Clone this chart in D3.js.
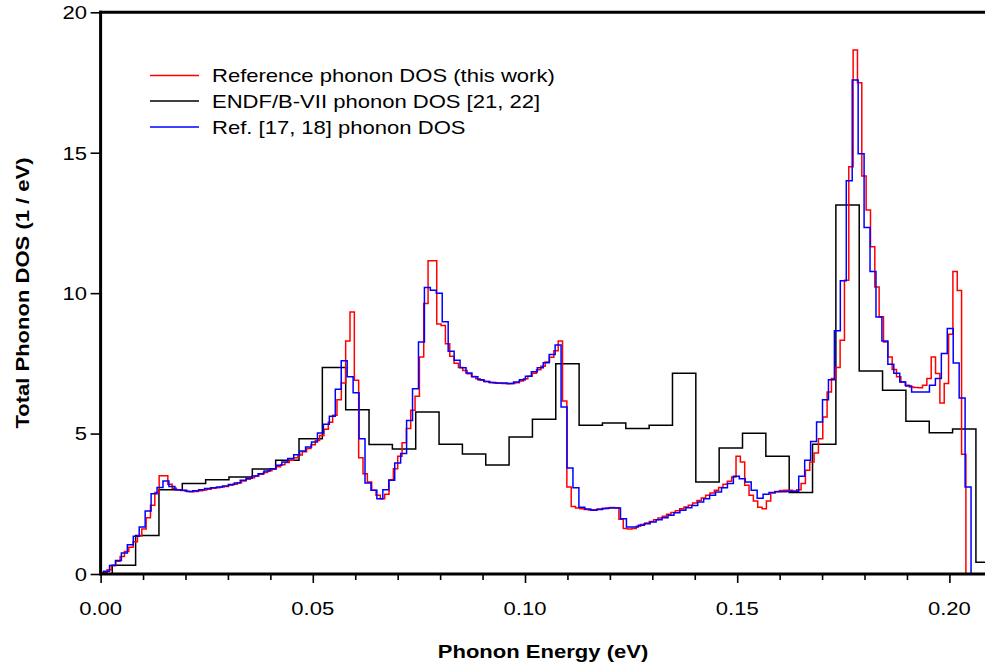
<!DOCTYPE html>
<html>
<head>
<meta charset="utf-8">
<script src="https://cdn.jsdelivr.net/npm/d3@7/dist/d3.min.js"></script>
<style>
  body { margin: 0; background: #ffffff; }
  svg { display: block; }
  text { font-family: "Liberation Sans", Arial, Helvetica, sans-serif; fill: #000; }
</style>
</head>
<body>
<svg id="chart" width="985" height="671"></svg>
<script>
// ---- data -------------------------------------------------------------
// Histogram bins are centred on i * binWidth (eV); values in 1/eV.

const refBinWidth = 0.001022;   // Reference phonon DOS (this work)
const refDOS = [
  0.02, 0.05, 0.15, 0.30, 0.45, 0.62, 0.80, 0.95, 1.15, 1.35,
  1.60, 2.00, 2.45, 2.90, 3.50, 3.50, 3.20, 3.05, 3.00, 2.97,
  2.95, 2.93, 2.94, 2.96, 2.99, 3.02, 3.05, 3.07, 3.10, 3.12,
  3.16, 3.20, 3.25, 3.31, 3.37, 3.43, 3.49, 3.55, 3.61, 3.68,
  3.74, 3.82, 3.89, 3.97, 4.05, 4.14, 4.24, 4.35, 4.47, 4.60,
  4.75, 4.93, 5.15, 5.40, 5.65, 6.20, 6.80, 8.30, 9.33, 6.90,
  4.14, 3.57, 3.28, 2.98, 2.80, 2.68, 2.84, 3.36, 3.75, 4.19,
  4.67, 5.18, 5.83, 6.33, 7.73, 9.63, 11.15, 11.15, 8.90, 8.85,
  8.20, 7.75, 7.50, 7.35, 7.25, 7.13, 7.03, 6.95, 6.90, 6.85,
  6.82, 6.80, 6.79, 6.78, 6.77, 6.78, 6.81, 6.87, 6.95, 7.04,
  7.15, 7.27, 7.40, 7.55, 7.72, 7.95, 8.30, 6.16, 3.10, 2.40,
  2.35, 2.32, 2.30, 2.28, 2.29, 2.31, 2.33, 2.35, 2.37, 2.36,
  1.95, 1.62, 1.60, 1.62, 1.70, 1.76, 1.82, 1.87, 1.93, 1.99,
  2.06, 2.13, 2.19, 2.25, 2.32, 2.39, 2.45, 2.53, 2.62, 2.71,
  2.80, 2.88, 2.98, 3.08, 3.20, 3.30, 3.45, 4.19, 3.99, 3.16,
  2.80, 2.60, 2.38, 2.32, 2.60, 2.88, 2.94, 2.97, 2.98, 2.98,
  2.95, 3.00, 3.22, 3.69, 3.99, 4.31, 4.82, 5.59, 6.48, 6.96,
  7.35, 8.32, 10.46, 14.50, 18.66, 17.49, 14.17, 12.96, 11.65, 10.22,
  9.16, 8.26, 7.73, 7.28, 7.02, 6.84, 6.72, 6.66, 6.64, 6.63,
  6.72, 6.96, 7.73, 7.14, 6.09, 6.78, 8.54, 10.77, 10.09, 4.26
];

const endfBinWidth = 0.0055;    // ENDF/B-VII phonon DOS [21, 22]
const endfDOS = [
  0.00, 0.31, 1.37, 3.00, 3.22, 3.36, 3.45, 3.74, 4.05, 4.82,
  7.35, 5.85, 4.61, 4.45, 5.77, 4.62, 4.27, 3.88, 4.88, 5.51,
  7.49, 5.30, 5.38, 5.18, 5.30, 7.15, 3.28, 4.49, 5.01, 4.19,
  2.90, 4.62, 13.14, 7.23, 6.54, 5.44, 5.03, 5.16, 0.42
];

const litBinWidth = 0.0014;     // Ref. [17, 18] phonon DOS
const litDOS = [
  0.00, 0.10, 0.30, 0.48, 0.75, 1.04, 1.34, 1.67, 2.24, 2.86,
  3.08, 3.31, 3.12, 3.00, 2.98, 2.94, 2.96, 3.00, 3.04, 3.07,
  3.10, 3.13, 3.19, 3.24, 3.34, 3.41, 3.49, 3.57, 3.67, 3.75,
  3.87, 3.99, 4.11, 4.25, 4.38, 4.52, 4.70, 5.02, 5.33, 5.62,
  6.58, 7.59, 7.02, 6.45, 4.82, 3.24, 2.98, 2.68, 3.00, 3.34,
  3.95, 4.29, 5.47, 6.60, 8.26, 10.20, 10.10, 10.00, 8.98, 7.93,
  7.61, 7.34, 7.16, 7.02, 6.92, 6.85, 6.82, 6.80, 6.80, 6.78,
  6.84, 6.92, 7.04, 7.20, 7.34, 7.52, 7.82, 8.15, 5.95, 3.77,
  3.07, 2.38, 2.31, 2.27, 2.30, 2.33, 2.35, 2.35, 1.97, 1.67,
  1.67, 1.74, 1.79, 1.85, 1.93, 2.00, 2.09, 2.18, 2.27, 2.36,
  2.44, 2.56, 2.68, 2.80, 2.92, 3.07, 3.22, 3.48, 3.39, 3.28,
  2.98, 2.70, 2.84, 2.90, 2.93, 2.93, 2.95, 2.95, 3.48, 4.05,
  4.72, 5.41, 6.20, 6.92, 8.66, 10.44, 14.00, 17.59, 14.96, 12.34,
  10.77, 9.15, 8.30, 7.47, 7.15, 6.84, 6.69, 6.48, 6.48, 6.48,
  6.72, 6.96, 7.85, 8.74, 7.51, 6.27, 3.10
];

const xMajorTicks = [0.00, 0.05, 0.10, 0.15, 0.20];
const xTickLabels = ["0.00", "0.05", "0.10", "0.15", "0.20"];
const xMinorTicks = [0.01, 0.02, 0.03, 0.04, 0.06, 0.07, 0.08, 0.09, 0.11, 0.12,
                     0.13, 0.14, 0.16, 0.17, 0.18, 0.19, 0.21];
const yTicks = [0, 5, 10, 15, 20];
const yTickLabels = ["0", "5", "10", "15", "20"];

const seriesNames = [
  "Reference phonon DOS (this work)",
  "ENDF/B-VII phonon DOS [21, 22]",
  "Ref. [17, 18] phonon DOS"
];
const seriesColors = ["#ff0000", "#000000", "#0000ff"];

// ---- layout -------------------------------------------------------------
const W = 985, H = 671;
const svg = d3.select("#chart");
const x = d3.scaleLinear().domain([0, 0.21]).range([100.6, 100.6 + 0.21 * 4244]);
const y = d3.scaleLinear().domain([0, 20]).range([574, 12.3]);
const SX = 1.16;     // horizontal stretch of the lettering
const FS = 19;       // font size (px)

svg.append("defs").append("clipPath").attr("id", "plotClip")
  .append("rect").attr("x", x(0)).attr("y", 0).attr("width", W).attr("height", y(0));

// ---- step histograms ---------------------------------------------------------
function stepPoints(values, width) {
  const pts = [[0, 0]];
  values.forEach((v, i) => {
    const a = Math.max(0, (i - 0.5) * width);
    const b = (i + 0.5) * width;
    pts.push([a, v], [b, v]);
  });
  pts.push([(values.length - 0.5) * width, 0]);
  return pts;
}
const line = d3.line().x(d => x(d[0])).y(d => y(d[1]));

const plot = svg.append("g").attr("clip-path", "url(#plotClip)");
const drawOrder = [
  { values: endfDOS, width: endfBinWidth, color: seriesColors[1] },
  { values: refDOS, width: refBinWidth, color: seriesColors[0] },
  { values: litDOS, width: litBinWidth, color: seriesColors[2] }
];
drawOrder.forEach(s => {
  plot.append("path")
    .attr("d", line(stepPoints(s.values, s.width)))
    .attr("fill", "none")
    .attr("stroke", s.color)
    .attr("stroke-width", 1.5)
    .attr("stroke-linejoin", "miter");
});

// ---- axes & frame ----------------------------------------------------------
const xAxisMinor = d3.axisBottom(x).tickValues(xMinorTicks).tickSize(6).tickFormat("");
const xAxisMajor = d3.axisBottom(x).tickValues(xMajorTicks).tickSize(9).tickFormat("");
const yAxis = d3.axisLeft(y).tickValues(yTicks).tickSize(10).tickFormat("");

[xAxisMinor, xAxisMajor].forEach(ax => {
  const g = svg.append("g").attr("transform", `translate(0,${y(0)})`).call(ax);
  g.select(".domain").remove();
  g.selectAll(".tick line").attr("stroke", "#000").attr("stroke-width", 1.6);
});
const gy = svg.append("g").attr("transform", `translate(${x(0)},0)`).call(yAxis);
gy.select(".domain").remove();
gy.selectAll(".tick line").attr("stroke", "#000").attr("stroke-width", 1.6);

// frame: thick left, bottom and top borders
const frame = svg.append("g").attr("stroke", "#000").attr("stroke-width", 3).attr("fill", "none");
frame.append("line").attr("x1", x(0)).attr("x2", W).attr("y1", y(0)).attr("y2", y(0));
frame.append("line").attr("x1", x(0) - 1.5).attr("x2", W).attr("y1", y(20)).attr("y2", y(20));
frame.append("line").attr("x1", x(0)).attr("x2", x(0)).attr("y1", y(20) - 1.5).attr("y2", y(0) + 1.5);

// tick labels
svg.append("g").selectAll("text").data(xMajorTicks).join("text")
  .attr("transform", d => `translate(${x(d)},615) scale(${SX},1)`)
  .attr("text-anchor", "middle")
  .attr("font-size", FS)
  .text((d, i) => xTickLabels[i]);

svg.append("g").selectAll("text").data(yTicks).join("text")
  .attr("transform", d => `translate(87,${y(d) + 6.8}) scale(${SX},1)`)
  .attr("text-anchor", "end")
  .attr("font-size", FS)
  .text((d, i) => yTickLabels[i]);

// axis titles
svg.append("text")
  .attr("transform", `translate(543,658) scale(${SX},1)`)
  .attr("text-anchor", "middle")
  .attr("font-size", FS)
  .attr("font-weight", "bold")
  .text("Phonon Energy (eV)");

svg.append("text")
  .attr("transform", `translate(29,293) rotate(-90) scale(${SX},1)`)
  .attr("text-anchor", "middle")
  .attr("font-size", FS)
  .attr("font-weight", "bold")
  .text("Total Phonon DOS (1 / eV)");

// ---- legend ----------------------------------------------------------------
const legendRows = [75.5, 101, 127];
const legend = svg.append("g");
seriesNames.forEach((name, i) => {
  legend.append("line")
    .attr("x1", 150).attr("x2", 199)
    .attr("y1", legendRows[i]).attr("y2", legendRows[i])
    .attr("stroke", seriesColors[i]).attr("stroke-width", 1.5);
  legend.append("text")
    .attr("transform", `translate(212,${legendRows[i] + 6.8}) scale(${SX},1)`)
    .attr("font-size", FS)
    .text(name);
});
</script>
</body>
</html>
